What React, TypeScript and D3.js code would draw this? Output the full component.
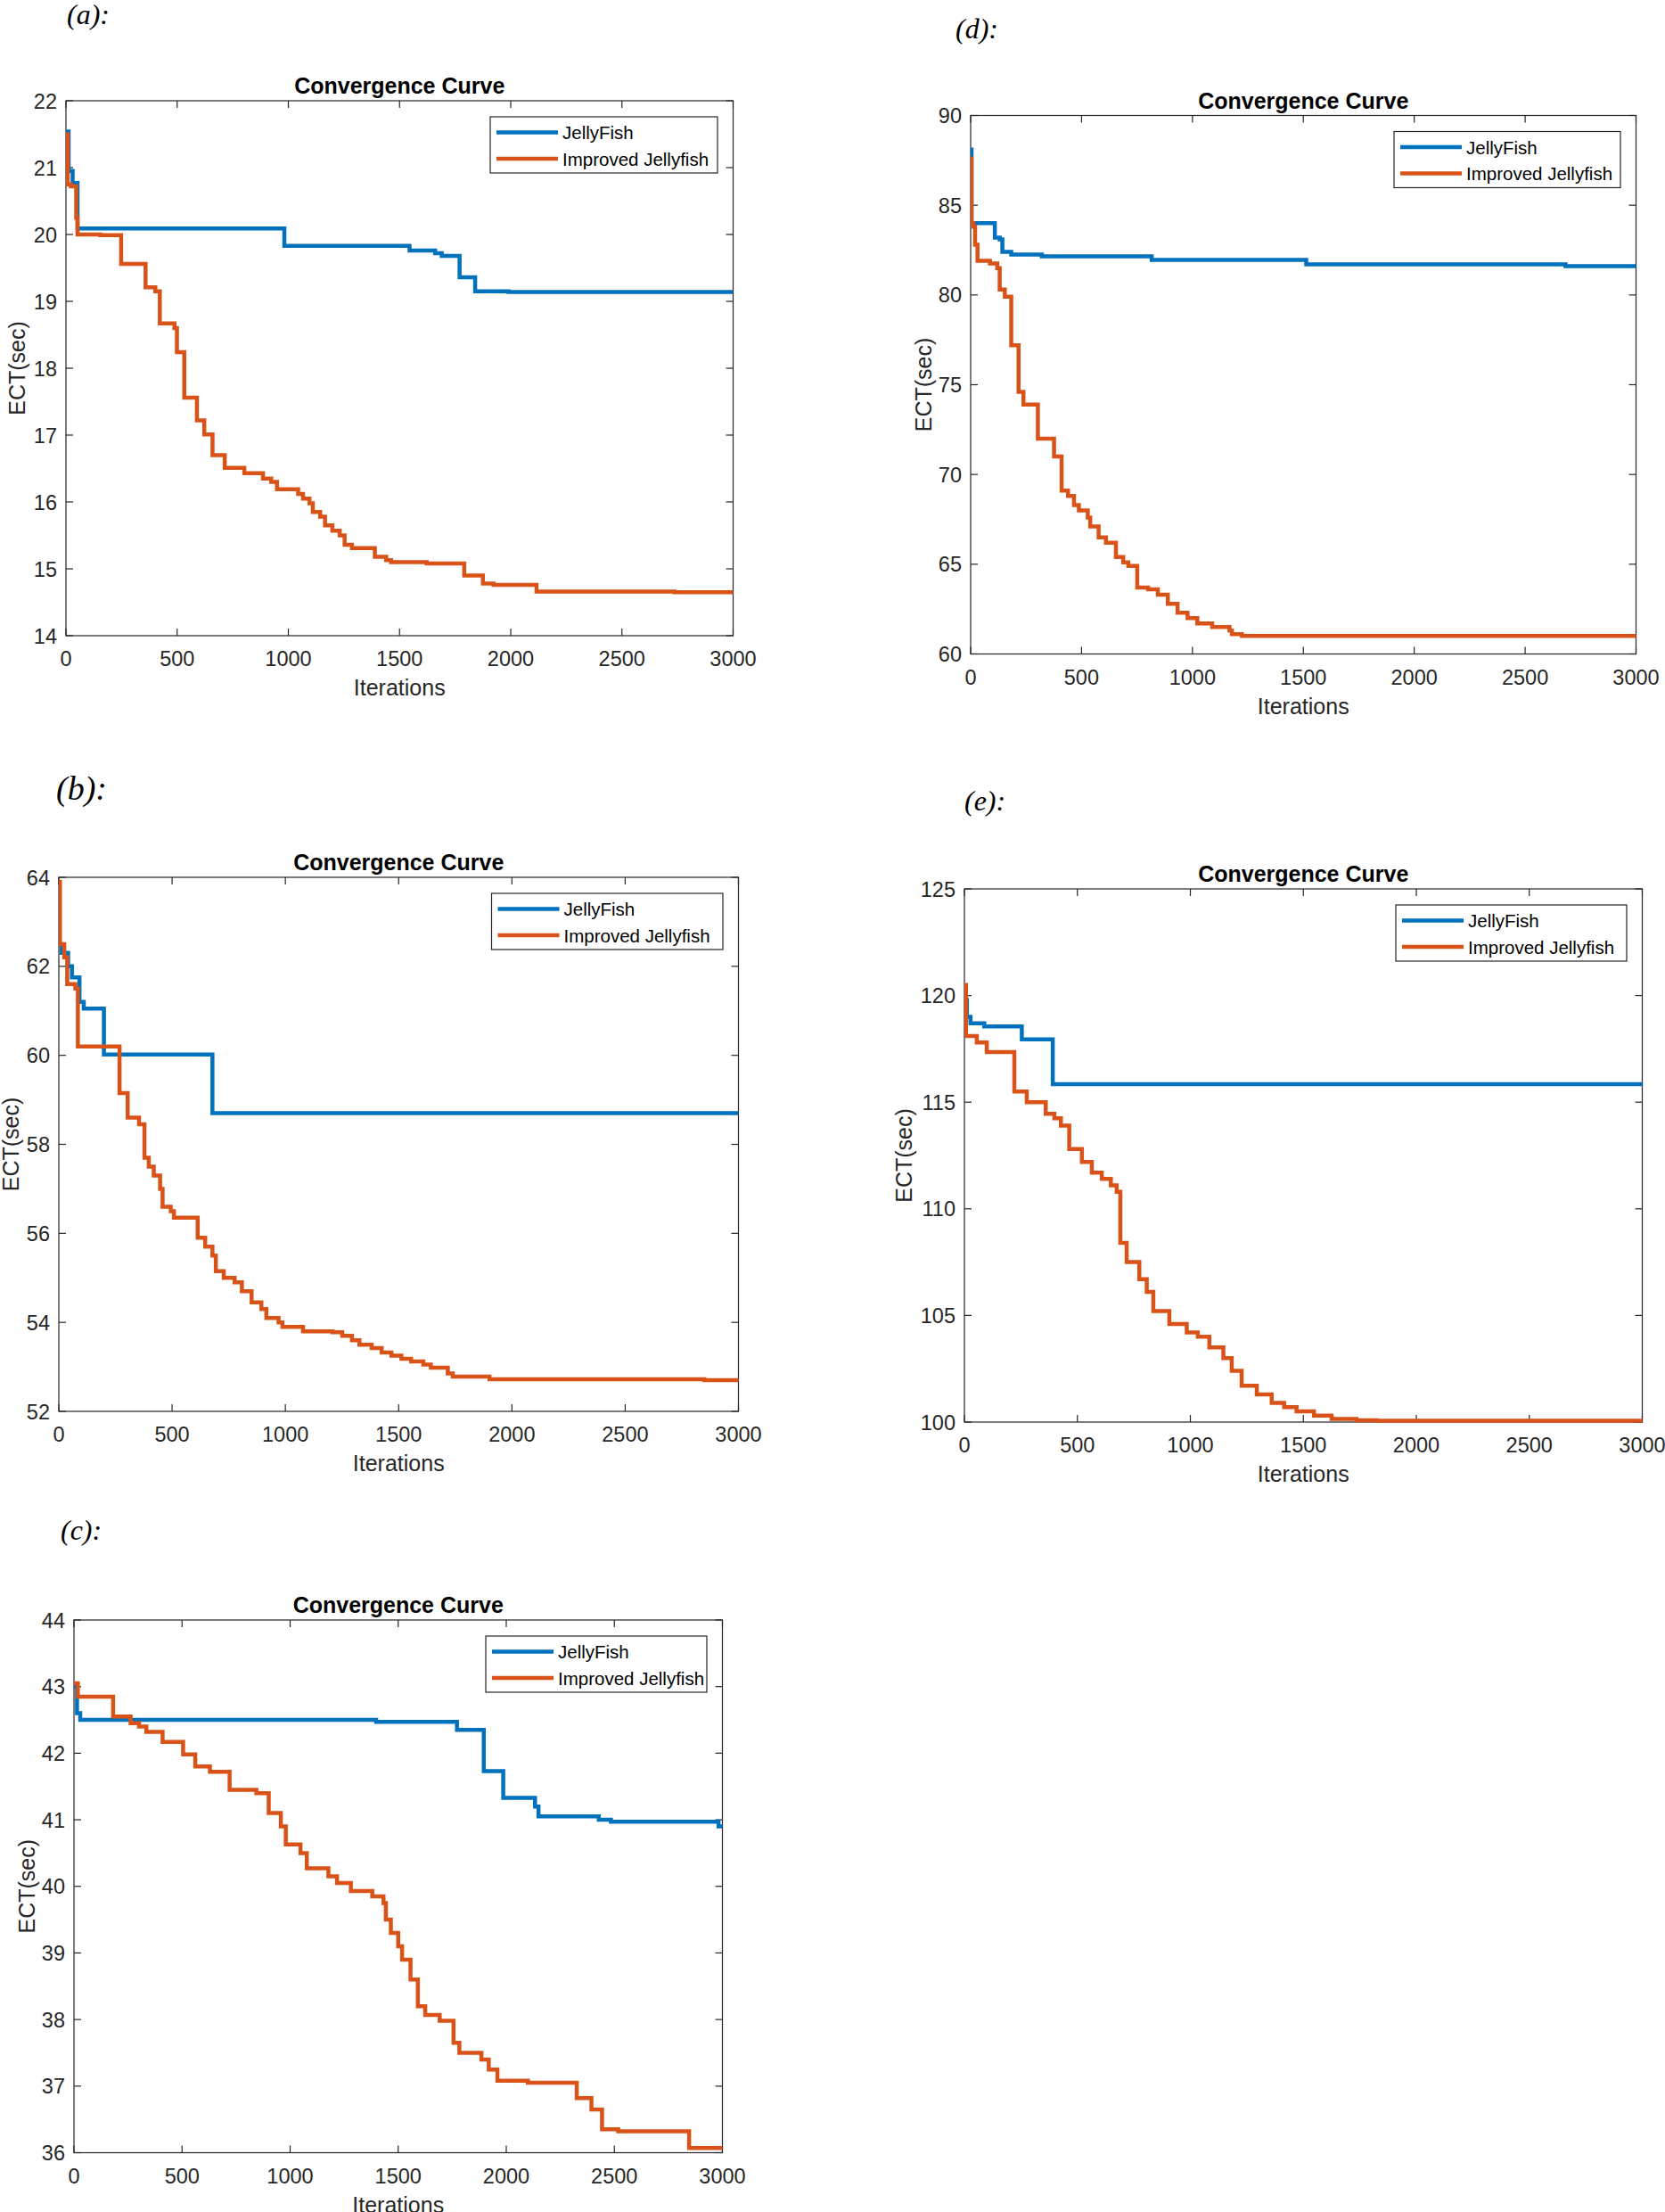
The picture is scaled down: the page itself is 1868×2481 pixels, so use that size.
import React from "react";
import * as d3 from "d3";

const W = 1868;
const H = 2481;

const xTicks = [0, 500, 1000, 1500, 2000, 2500, 3000];
const yTicksA = [14, 15, 16, 17, 18, 19, 20, 21, 22];
const yTicksB = [52, 54, 56, 58, 60, 62, 64];
const yTicksC = [36, 37, 38, 39, 40, 41, 42, 43, 44];
const yTicksD = [60, 65, 70, 75, 80, 85, 90];
const yTicksE = [100, 105, 110, 115, 120, 125];

const seriesNames = ["JellyFish", "Improved Jellyfish"];

const jellyA = [[0,21.54],[12,20.95],[30,20.77],[52,20.09],[982,19.83],[1545,19.76],[1660,19.72],[1690,19.68],[1770,19.36],[1840,19.15],[1990,19.14],[3000,19.14]];
const improvedA = [[0,21.5],[8,20.75],[22,20.72],[46,20.25],[52,20.0],[154,19.99],[248,19.56],[358,19.21],[402,19.15],[422,18.67],[488,18.6],[499,18.24],[532,17.56],[589,17.22],[622,17.01],[659,16.7],[714,16.51],[802,16.43],[886,16.35],[923,16.3],[949,16.19],[1044,16.12],[1066,16.05],[1095,15.98],[1110,15.85],[1143,15.78],[1165,15.65],[1198,15.57],[1231,15.5],[1253,15.36],[1286,15.31],[1389,15.18],[1440,15.13],[1462,15.1],[1622,15.08],[1791,14.9],[1875,14.78],[1923,14.76],[2116,14.66],[2736,14.65],[3000,14.65]];

const jellyD = [[0,88.1],[4,84.0],[109,83.2],[131,83.1],[143,82.4],[183,82.25],[321,82.15],[816,81.95],[1513,81.7],[2682,81.6],[3000,81.6]];
const improvedD = [[0,87.6],[4,84.0],[12,83.8],[20,82.8],[31,81.9],[87,81.75],[120,81.5],[131,80.3],[154,79.9],[183,77.2],[216,74.6],[238,73.9],[303,72.0],[376,71.0],[410,69.1],[439,68.8],[466,68.3],[488,68.0],[528,67.6],[539,67.1],[577,66.5],[610,66.2],[655,65.4],[688,65.1],[711,64.9],[751,63.7],[800,63.6],[844,63.3],[889,62.8],[933,62.3],[978,62.0],[1022,61.7],[1089,61.5],[1167,61.3],[1178,61.1],[1223,61.0],[3000,61.0]];

const jellyB = [[0,62.5],[13,62.3],[41,62.0],[58,61.75],[91,61.2],[110,61.05],[199,60.02],[678,58.7],[3000,58.7]];
const improvedB = [[0,63.9],[5,62.5],[24,62.2],[37,61.6],[73,61.5],[84,60.2],[268,59.15],[304,58.6],[354,58.45],[378,57.7],[397,57.5],[419,57.3],[447,57.0],[458,56.6],[494,56.5],[508,56.35],[613,55.9],[646,55.7],[678,55.5],[693,55.15],[728,55.0],[776,54.9],[808,54.7],[851,54.45],[894,54.3],[916,54.1],[970,54.0],[987,53.9],[1078,53.8],[1208,53.78],[1251,53.7],[1294,53.6],[1327,53.5],[1381,53.42],[1425,53.32],[1468,53.25],[1512,53.18],[1555,53.12],[1609,53.05],[1642,52.98],[1717,52.85],[1739,52.78],[1901,52.72],[2849,52.7],[3000,52.7]];

const jellyE = [[0,119.8],[11,119.0],[27,118.7],[88,118.55],[254,117.95],[391,115.84],[3000,115.84]];
const improvedE = [[0,120.5],[7,118.1],[55,117.8],[99,117.35],[221,115.5],[276,115.0],[360,114.45],[398,114.25],[427,113.9],[464,112.8],[520,112.2],[564,111.7],[608,111.4],[648,111.1],[674,110.8],[690,108.4],[718,107.5],[774,106.7],[807,106.1],[836,105.2],[907,104.6],[984,104.2],[1033,104.0],[1084,103.5],[1146,103.0],[1183,102.4],[1227,101.7],[1294,101.3],[1360,100.9],[1415,100.7],[1470,100.5],[1547,100.3],[1625,100.15],[1735,100.08],[1824,100.06],[3000,100.06]];

const jellyC = [[0,43.0],[14,42.6],[29,42.5],[1398,42.47],[1772,42.35],[1896,41.73],[1986,41.33],[2133,41.2],[2149,41.05],[2428,41.0],[2484,40.97],[2982,40.9],[3000,40.9]];
const improvedC = [[0,43.05],[18,42.85],[181,42.55],[262,42.45],[301,42.4],[335,42.32],[410,42.17],[505,41.98],[561,41.8],[629,41.72],[720,41.45],[844,41.4],[901,41.1],[957,40.9],[980,40.63],[1048,40.5],[1077,40.27],[1177,40.15],[1217,40.05],[1281,39.93],[1380,39.85],[1432,39.75],[1443,39.5],[1466,39.3],[1500,39.1],[1518,38.9],[1557,38.6],[1591,38.2],[1625,38.07],[1692,37.98],[1756,37.65],[1783,37.5],[1885,37.4],[1919,37.25],[1959,37.08],[2100,37.05],[2326,36.82],[2394,36.65],[2443,36.35],[2518,36.32],[2846,36.07],[3000,36.07]];

const BLUE = "#0072BD";
const ORANGE = "#D95319";
const AX = "#262626";
const SANS = "'Liberation Sans', Arial, Helvetica, sans-serif";
const SERIF = "'Liberation Serif', 'Times New Roman', serif";

const panels = [
  { key: "a", label: "(a):", lx: 75, ly: 27, lsize: 32, left: 74, right: 822.5, top: 113, bottom: 713, yDomain: [14, 22], yTicks: yTicksA, jelly: jellyA, improved: improvedA, ylabC: 19, legW: 255 },
  { key: "d", label: "(d):", lx: 1072, ly: 43, lsize: 32, left: 1089, right: 1835.5, top: 129.5, bottom: 733.5, yDomain: [60, 90], yTicks: yTicksD, jelly: jellyD, improved: improvedD, ylabC: 1036, legW: 254 },
  { key: "b", label: "(b):", lx: 63, ly: 897, lsize: 38, left: 66, right: 828.5, top: 984, bottom: 1583, yDomain: [52, 64], yTicks: yTicksB, jelly: jellyB, improved: improvedB, ylabC: 12, legW: 259.5 },
  { key: "e", label: "(e):", lx: 1082, ly: 909, lsize: 32, left: 1082, right: 1842.5, top: 997, bottom: 1595, yDomain: [100, 125], yTicks: yTicksE, jelly: jellyE, improved: improvedE, ylabC: 1014, legW: 259 },
  { key: "c", label: "(c):", lx: 68, ly: 1727, lsize: 32, left: 83, right: 810.5, top: 1817, bottom: 2414.5, yDomain: [36, 44], yTicks: yTicksC, jelly: jellyC, improved: improvedC, ylabC: 30, legW: 248 },
];

function Panel({ p }: { p: any }) {
  const x = d3.scaleLinear().domain([0, 3000]).range([p.left, p.right]);
  const y = d3.scaleLinear().domain(p.yDomain).range([p.bottom, p.top]);
  const line = d3
    .line<number[]>()
    .x((d) => x(d[0]))
    .y((d) => y(d[1]))
    .curve(d3.curveStepAfter);
  const tl = 8;
  const legR = p.right - 17.5;
  const legL = legR - p.legW;
  const legT = p.top + 18;
  const clipId = `clip-${p.key}`;
  const cy = (p.top + p.bottom) / 2;
  return (
    <g>
      <defs>
        <clipPath id={clipId}>
          <rect x={p.left} y={p.top - 4} width={p.right - p.left + 2} height={p.bottom - p.top + 6} />
        </clipPath>
      </defs>
      <text x={p.lx} y={p.ly} fontFamily={SERIF} fontStyle="italic" fontSize={p.lsize} fill="#000">
        {p.label}
      </text>
      <text x={(p.left + p.right) / 2} y={p.top - 8} textAnchor="middle" fontFamily={SANS} fontWeight="bold" fontSize={25} fill="#000">
        Convergence Curve
      </text>
      <rect x={p.left} y={p.top} width={p.right - p.left} height={p.bottom - p.top} fill="#fff" stroke={AX} strokeWidth={1.2} />
      {xTicks.map((t) => (
        <g key={"x" + t}>
          <line x1={x(t)} x2={x(t)} y1={p.bottom} y2={p.bottom - tl} stroke={AX} strokeWidth={1.2} />
          <line x1={x(t)} x2={x(t)} y1={p.top} y2={p.top + tl} stroke={AX} strokeWidth={1.2} />
          <text x={x(t)} y={p.bottom + 34} textAnchor="middle" fontFamily={SANS} fontSize={23.5} fill={AX}>
            {t}
          </text>
        </g>
      ))}
      {p.yTicks.map((t: number) => (
        <g key={"y" + t}>
          <line x1={p.left} x2={p.left + tl} y1={y(t)} y2={y(t)} stroke={AX} strokeWidth={1.2} />
          <line x1={p.right} x2={p.right - tl} y1={y(t)} y2={y(t)} stroke={AX} strokeWidth={1.2} />
          <text x={p.left - 10} y={y(t) + 8.5} textAnchor="end" fontFamily={SANS} fontSize={23.5} fill={AX}>
            {t}
          </text>
        </g>
      ))}
      <g clipPath={`url(#${clipId})`}>
        <path d={line(p.jelly) || ""} fill="none" stroke={BLUE} strokeWidth={4.5} strokeLinejoin="miter" />
        <path d={line(p.improved) || ""} fill="none" stroke={ORANGE} strokeWidth={4.5} strokeLinejoin="miter" />
      </g>
      <text x={(p.left + p.right) / 2} y={p.bottom + 67} textAnchor="middle" fontFamily={SANS} fontSize={25} fill={AX}>
        Iterations
      </text>
      <text
        transform={`translate(${p.ylabC + 9},${cy}) rotate(-90)`}
        textAnchor="middle"
        fontFamily={SANS}
        fontSize={25}
        fill={AX}
      >
        ECT(sec)
      </text>
      <rect x={legL} y={legT} width={p.legW} height={63} fill="#fff" stroke={AX} strokeWidth={1.2} />
      {seriesNames.map((name, i) => {
        const ry = legT + 17.5 + i * 29.5;
        return (
          <g key={name}>
            <line x1={legL + 7} x2={legL + 76} y1={ry} y2={ry} stroke={i === 0 ? BLUE : ORANGE} strokeWidth={4.5} />
            <text x={legL + 81} y={ry + 7.5} fontFamily={SANS} fontSize={20.5} fill="#000">
              {name}
            </text>
          </g>
        );
      })}
    </g>
  );
}

export default function App() {
  return (
    <svg
      width={W}
      height={H}
      viewBox={`0 0 ${W} ${H}`}
      style={{ position: "absolute", left: 0, top: 0, background: "#fff" }}
    >
      <rect x={0} y={0} width={W} height={H} fill="#fff" />
      {panels.map((p) => (
        <Panel key={p.key} p={p} />
      ))}
    </svg>
  );
}
